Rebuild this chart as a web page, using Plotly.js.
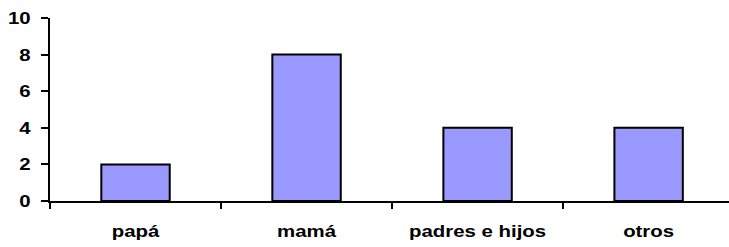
<!DOCTYPE html>
<html>
<head>
<meta charset="utf-8">
<script src="https://cdn.plot.ly/plotly-3.0.1.min.js"></script>
<style>
html, body { margin: 0; padding: 0; background: #ffffff; }
#chart { width: 729px; height: 247px; }
</style>
</head>
<body>
<div id="chart"></div>
<script>
const categories = ["papá", "mamá", "padres e hijos", "otros"];
const values = [2, 8, 4, 4];
const yTickValues = [0, 2, 4, 6, 8, 10];
const yTickLabels = ["0", "2", "4", "6", "8", "10"];

const font = { family: "Liberation Sans, Arial, sans-serif", size: 17, color: "#000000", weight: "bold" };
const labelStretch = 1.2;

const trace = {
  type: "bar",
  x: categories,
  y: values,
  width: 0.4,
  marker: { color: "#9999FF", line: { color: "#000000", width: 2 } },
  hoverinfo: "skip"
};

const layout = {
  width: 729,
  height: 247,
  margin: { l: 50, r: 0, t: 18, b: 46, pad: 0 },
  paper_bgcolor: "#ffffff",
  plot_bgcolor: "#ffffff",
  showlegend: false,
  font: font,
  bargap: 0.6,
  xaxis: {
    type: "category",
    range: [-0.5, 3.47],
    showline: true,
    linecolor: "#000000",
    linewidth: 2,
    ticks: "outside",
    tickson: "boundaries",
    ticklen: 6,
    tickwidth: 2,
    tickcolor: "#000000",
    showgrid: false,
    zeroline: false,
    tickfont: font,
    ticklabelstandoff: 14
  },
  yaxis: {
    range: [0, 10],
    tickvals: yTickValues,
    ticktext: yTickLabels,
    showline: true,
    linecolor: "#000000",
    linewidth: 2,
    ticks: "outside",
    ticklen: 7,
    tickwidth: 2,
    tickcolor: "#000000",
    showgrid: false,
    zeroline: false,
    tickfont: font,
    ticklabelstandoff: 7
  }
};

Plotly.newPlot("chart", [trace], layout, { staticPlot: true, displayModeBar: false }).then(function (gd) {
  // widen tick label glyphs horizontally around their anchor point
  gd.querySelectorAll(".xtick text, .ytick text").forEach(function (t) {
    const x = parseFloat(t.getAttribute("x")) || 0;
    const tr = t.getAttribute("transform") || "";
    t.setAttribute("transform", tr + " translate(" + x + ",0) scale(" + labelStretch + ",1) translate(" + (-x) + ",0)");
  });
});
</script>
</body>
</html>
